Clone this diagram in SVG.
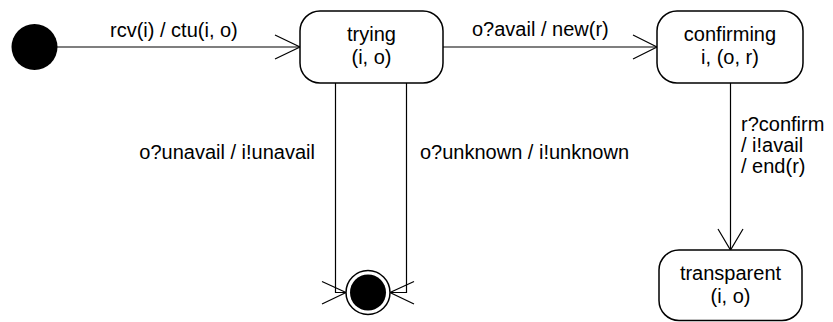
<svg xmlns="http://www.w3.org/2000/svg" width="833" height="322" viewBox="0 0 833 322">
  <style>
    .state { fill: #fff; stroke: #000; stroke-width: 1.5; }
    .edge { fill: none; stroke: #000; stroke-width: 1.2; }
    .head { fill: none; stroke: #000; stroke-width: 1.2; }
    text { font-family: "Liberation Sans", Arial, sans-serif; font-size: 20px; fill: #000; }
    .c { text-anchor: middle; }
    .e { text-anchor: end; }
  </style>
  <rect width="833" height="322" fill="#fff"/>

  <g id="connectors">
    <!-- initial -> trying -->
    <path class="edge" d="M57,47 H300"/>
    <path class="head" d="M275,35 L300,47 L275,59"/>
    <text x="110" y="37">rcv(i) / ctu(i, o)</text>
    <!-- trying -> confirming -->
    <path class="edge" d="M443,47 H657"/>
    <path class="head" d="M633,35 L657,47 L633,59"/>
    <text x="472" y="36">o?avail / new(r)</text>
    <!-- trying -> final (unavail) -->
    <path class="edge" d="M335.5,83 V292.5 H346"/>
    <path class="head" d="M322,281.5 L346,292.5 L322,304"/>
    <text class="e" x="315" y="159">o?unavail / i!unavail</text>
    <!-- trying -> final (unknown) -->
    <path class="edge" d="M406.5,83 V292.5 H390"/>
    <path class="head" d="M414,281.5 L390,292.5 L414,304"/>
    <text x="420" y="159">o?unknown / i!unknown</text>
    <!-- confirming -> transparent -->
    <path class="edge" d="M730.5,83 V250"/>
    <path class="head" d="M718,229 L730.5,250 L743,229"/>
    <text x="741" y="131">r?confirm</text>
    <text x="741" y="152">/ i!avail</text>
    <text x="741" y="173">/ end(r)</text>
  </g>

  <g id="initial">
    <circle cx="34.5" cy="47" r="23" fill="#000"/>
  </g>

  <g id="trying">
    <rect class="state" x="300" y="11" width="143" height="72" rx="20" ry="20"/>
    <text class="c" x="371.5" y="41">trying</text>
    <text class="c" x="371.5" y="64">(i, o)</text>
  </g>

  <g id="confirming">
    <rect class="state" x="657" y="11" width="146" height="72" rx="20" ry="20"/>
    <text class="c" x="730" y="41">confirming</text>
    <text class="c" x="730" y="64">i, (o, r)</text>
  </g>

  <g id="transparent">
    <rect class="state" x="659" y="250" width="143" height="70.5" rx="20" ry="20"/>
    <text class="c" x="730.5" y="280">transparent</text>
    <text class="c" x="730.5" y="303">(i, o)</text>
  </g>

  <g id="final">
    <circle cx="368" cy="292.5" r="22" fill="#fff" stroke="#000" stroke-width="1.5"/>
    <circle cx="368" cy="292.5" r="18" fill="#000"/>
  </g>
</svg>
